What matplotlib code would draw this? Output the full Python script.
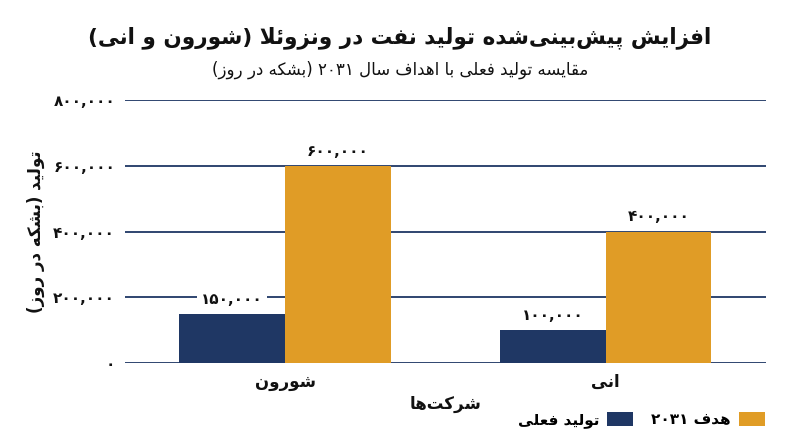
import re
import matplotlib
matplotlib.use('Agg')
import matplotlib.pyplot as plt
import numpy as np

# Persian text is shaped by hand: matplotlib has no Arabic joining / RTL
FORMS = {
    'ا': (0xFE8D, 0xFE8E, None, None), 'آ': (0xFE81, 0xFE82, None, None),
    'ب': (0xFE8F, 0xFE90, 0xFE91, 0xFE92), 'پ': (0xFB56, 0xFB57, 0xFB58, 0xFB59),
    'ت': (0xFE95, 0xFE96, 0xFE97, 0xFE98), 'ث': (0xFE99, 0xFE9A, 0xFE9B, 0xFE9C),
    'ج': (0xFE9D, 0xFE9E, 0xFE9F, 0xFEA0), 'چ': (0xFB7A, 0xFB7B, 0xFB7C, 0xFB7D),
    'ح': (0xFEA1, 0xFEA2, 0xFEA3, 0xFEA4), 'خ': (0xFEA5, 0xFEA6, 0xFEA7, 0xFEA8),
    'د': (0xFEA9, 0xFEAA, None, None), 'ذ': (0xFEAB, 0xFEAC, None, None),
    'ر': (0xFEAD, 0xFEAE, None, None), 'ز': (0xFEAF, 0xFEB0, None, None),
    'ژ': (0xFB8A, 0xFB8B, None, None),
    'س': (0xFEB1, 0xFEB2, 0xFEB3, 0xFEB4), 'ش': (0xFEB5, 0xFEB6, 0xFEB7, 0xFEB8),
    'ص': (0xFEB9, 0xFEBA, 0xFEBB, 0xFEBC), 'ض': (0xFEBD, 0xFEBE, 0xFEBF, 0xFEC0),
    'ط': (0xFEC1, 0xFEC2, 0xFEC3, 0xFEC4), 'ظ': (0xFEC5, 0xFEC6, 0xFEC7, 0xFEC8),
    'ع': (0xFEC9, 0xFECA, 0xFECB, 0xFECC), 'غ': (0xFECD, 0xFECE, 0xFECF, 0xFED0),
    'ف': (0xFED1, 0xFED2, 0xFED3, 0xFED4), 'ق': (0xFED5, 0xFED6, 0xFED7, 0xFED8),
    'ک': (0xFB8E, 0xFB8F, 0xFB90, 0xFB91), 'گ': (0xFB92, 0xFB93, 0xFB94, 0xFB95),
    'ل': (0xFEDD, 0xFEDE, 0xFEDF, 0xFEE0), 'م': (0xFEE1, 0xFEE2, 0xFEE3, 0xFEE4),
    'ن': (0xFEE5, 0xFEE6, 0xFEE7, 0xFEE8), 'ه': (0xFEE9, 0xFEEA, 0xFEEB, 0xFEEC),
    'و': (0xFEED, 0xFEEE, None, None), 'ی': (0xFBFC, 0xFBFD, 0xFBFE, 0xFBFF),
    'ئ': (0xFE89, 0xFE8A, 0xFE8B, 0xFE8C),
}
MIRROR = {'(': ')', ')': '('}


def dual(c):
    return c in FORMS and FORMS[c][2] is not None


def shape(s):
    out = []
    i = 0
    while i < len(s):
        c = s[i]
        if c not in FORMS:
            if c != '\u200c':
                out.append(c)
            i += 1
            continue
        prev = s[i - 1] if i > 0 else ''
        joined_prev = dual(prev)
        if c == 'ل' and i + 1 < len(s) and s[i + 1] == 'ا':
            out.append(chr(0xFEFC if joined_prev else 0xFEFB))
            i += 2
            continue
        nxt = s[i + 1] if i + 1 < len(s) else ''
        joined_next = dual(c) and nxt in FORMS
        iso, fin, ini, med = FORMS[c]
        if joined_prev and joined_next:
            code = med
        elif joined_prev:
            code = fin
        elif joined_next:
            code = ini
        else:
            code = iso
        out.append(chr(code))
        i += 1
    return ''.join(out)


def fa(s):
    shaped = shape(s)
    chunks = re.findall(r'[0-9۰-۹][0-9۰-۹,]*|[^0-9۰-۹]+', shaped)
    res = []
    for ch in reversed(chunks):
        if ch[0] in '0123456789۰۱۲۳۴۵۶۷۸۹':
            res.append(ch)
        else:
            res.append(''.join(MIRROR.get(c, c) for c in reversed(ch)))
    return ''.join(res)


def fa_num(v):
    return f'{v:,}'.translate(str.maketrans('0123456789', '۰۱۲۳۴۵۶۷۸۹'))


companies = ['شورون', 'انی']
current = [150000, 100000]
target_2031 = [600000, 400000]
yticks = [0, 200000, 400000, 600000, 800000]

navy = '#1f3764'
gold = '#e09c26'
text_c = '#111111'

plt.rcParams['font.family'] = ['DejaVu Sans']

fig = plt.figure(figsize=(8, 4.47), dpi=100)
ax = fig.add_axes([0.156, 0.188, 0.8015, 0.588])

x = np.arange(len(companies))
w = 0.33
b1 = ax.bar(x - w / 2, current, w, color=navy, zorder=3, label=fa('تولید فعلی'))
b2 = ax.bar(x + w / 2, target_2031, w, color=gold, zorder=3, label=fa('هدف ۲۰۳۱'))

for bars, vals in ((b1, current), (b2, target_2031)):
    for r, v in zip(bars, vals):
        ax.annotate(fa_num(v), (r.get_x() + r.get_width() / 2, v), xytext=(0, 10.5),
                    textcoords='offset points', ha='center', va='center',
                    fontsize=11, fontweight='bold', color=text_c, zorder=4,
                    bbox=dict(facecolor='white', edgecolor='none', pad=3))

ax.set_xlim(-0.5, 1.5)
ax.set_ylim(0, 800000)
ax.set_yticks(yticks)
ax.set_yticklabels([fa_num(v) for v in yticks], fontsize=11, fontweight='bold', color=text_c)
ax.set_xticks(x)
ax.set_xticklabels([fa(c) for c in companies], fontsize=12, fontweight='bold', color=text_c)
ax.tick_params(axis='both', length=0, pad=7)
ax.grid(axis='y', color=navy, linewidth=1.3, zorder=0)
for side in ('top', 'right', 'left', 'bottom'):
    ax.spines[side].set_visible(False)

ax.set_xlabel(fa('شرکت‌ها'), fontsize=12, fontweight='bold', color=text_c, labelpad=3)
ax.set_ylabel(fa('تولید (بشکه در روز)'), fontsize=12, fontweight='bold', color=text_c, labelpad=6)

fig.text(0.5, 0.915, fa('افزایش پیش‌بینی‌شده تولید نفت در ونزوئلا (شورون و انی)'),
         ha='center', va='center', fontsize=15.5, fontweight='bold', color=text_c)
fig.text(0.5, 0.843, fa('مقایسه تولید فعلی با اهداف سال ۲۰۳۱ (بشکه در روز)'),
         ha='center', va='center', fontsize=12, color=text_c)

handles, labels = ax.get_legend_handles_labels()
fig.legend(handles, labels, loc='center right', bbox_to_anchor=(0.973, 0.06), ncol=2,
           frameon=False, markerfirst=False, handlelength=1.7, handleheight=1.0,
           columnspacing=1.2, handletextpad=0.5,
           prop={'size': 11, 'weight': 'bold'})

fig.savefig('out.png', dpi=100, facecolor='white')
